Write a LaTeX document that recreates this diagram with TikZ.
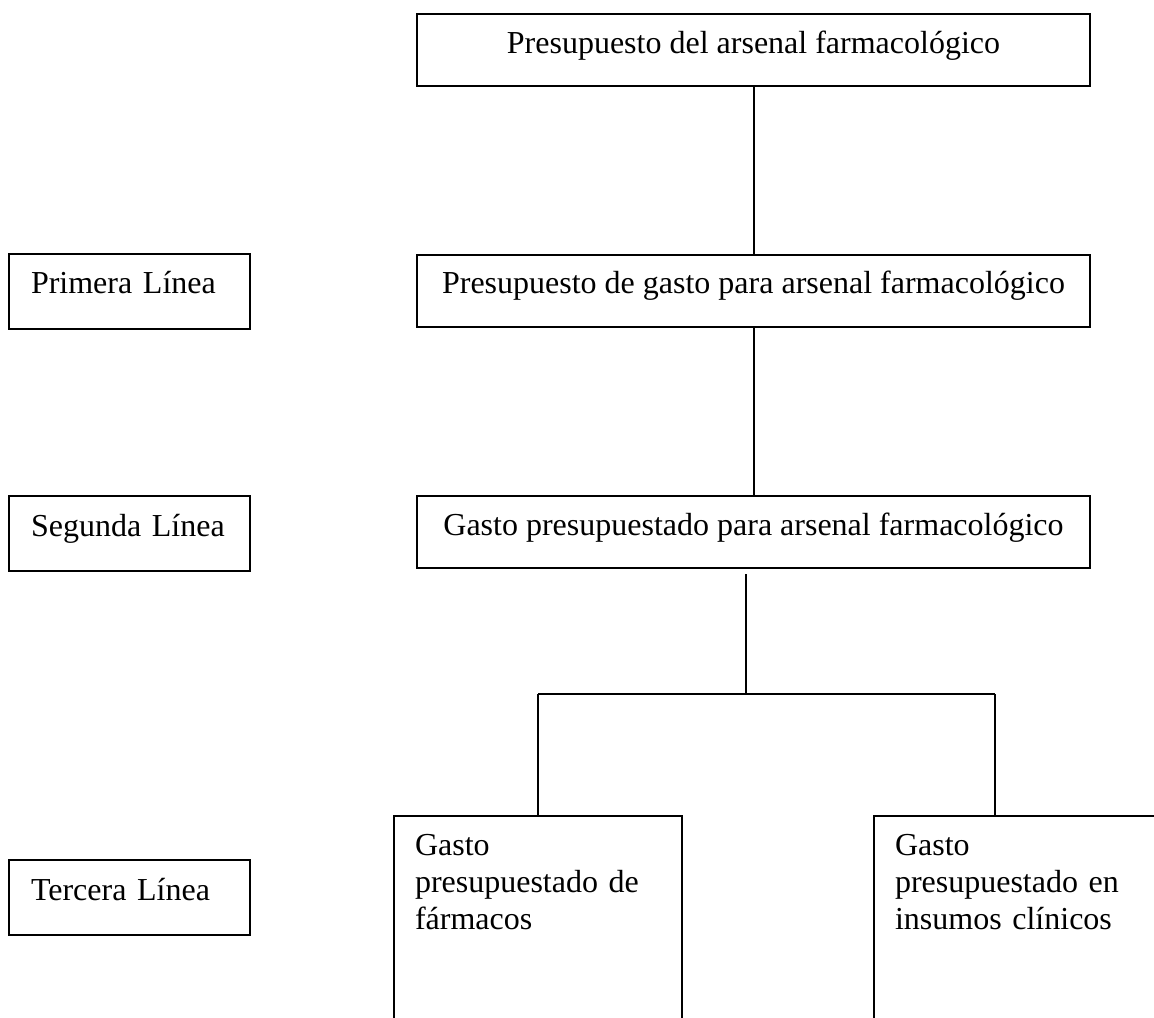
\documentclass[tikz,border=0pt]{standalone}
\usepackage{fontspec}
\setmainfont{Liberation Serif}
\begin{document}
\begin{tikzpicture}[x=0.375pt,y=-0.375pt,
  every node/.style={font=\fontsize{12}{13.875}\selectfont},
  box/.style={draw, line width=0.75pt, rectangle, text height=9pt},
  mainbox/.style={box, minimum width=252.375pt, inner xsep=0pt, inner ysep=5.625pt, text depth=6.75pt, align=center},
  tagbox/.style={box, inner xsep=8.25pt, text width=73.875pt, align=left, inner ysep=6pt, text depth=7.125pt},
  leafbox/.style={box, anchor=north, inner xsep=7.875pt, text width=92.25pt, align=left, inner ysep=5.625pt, text depth=92.25pt},
  link/.style={line width=0.75pt}]
\useasboundingbox (0,0) rectangle (1154,1018);
\clip (0,0) rectangle (1154,1018);

% main budget chain
\node[mainbox] (top) at (753.5,50.5) {Presupuesto del arsenal farmacológico};
\node[mainbox] (gasto1) at (753.5,291) {Presupuesto de gasto para arsenal farmacológico};
\node[mainbox] (gasto2) at (753.5,532) {Gasto presupuestado para arsenal farmacológico};

% level tags
\node[tagbox] (l1) at (129.5,291.5) {Primera Línea};
\node[tagbox] (l2) at (129.5,533.5) {Segunda Línea};
\node[tagbox] (l3) at (129.5,897.5) {Tercera Línea};

% third level
\node[leafbox] (farm) at (538,815) {Gasto\\presupuestado de\\fármacos};
\node[leafbox] (ins) at (1018,815) {Gasto\\presupuestado en\\insumos clínicos};

% connectors
\draw[link] (top.south) -- (gasto1.north);
\draw[link] (gasto1.south) -- (gasto2.north);
\coordinate (stem) at (746,574);
\coordinate (jL) at (538,694);
\coordinate (jR) at (995,694);
\draw[link] (stem) -- (stem |- jL);
\draw[link] (jL) -- (jR);
\draw[link] (jL) -- (farm.north);
\draw[link] (jR) -- (jR |- ins.north);
\end{tikzpicture}
\end{document}
